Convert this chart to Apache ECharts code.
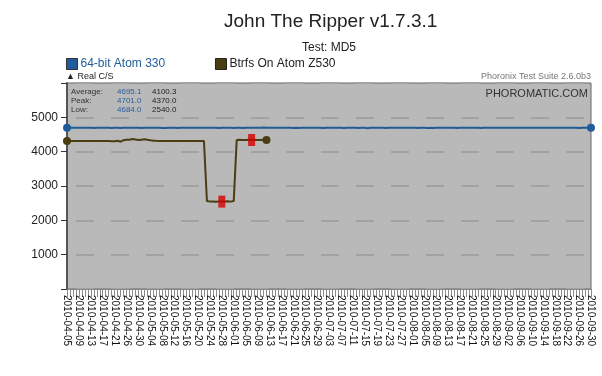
<!DOCTYPE html>
<html>
<head>
<meta charset="utf-8">
<script src="https://cdn.jsdelivr.net/npm/echarts@6/dist/echarts.min.js"></script>
<style>
  html, body { margin: 0; padding: 0; background: #fff; }
  #chart { width: 602px; height: 376px; }
</style>
</head>
<body>
<div id="chart"></div>
<script>
// test dates: one per day, two days have no run
var startDate = "2010-04-05";
var endDate = "2010-09-30";
var skipDays = ["2010-04-24", "2010-07-30"];

var seriesNames = ["64-bit Atom 330", "Btrfs On Atom Z530"];
var seriesColors = ["#1f5c99", "#4a3d14"];

// 64-bit Atom 330, every test date
var atomValues = [
  4697, 4698, 4697, 4697, 4698, 4697, 4697, 4698, 4697, 4688,
  4697, 4697, 4698, 4697, 4697, 4689, 4697, 4697, 4687, 4697,
  4698, 4697, 4697, 4698, 4697, 4688, 4697, 4697, 4698, 4697,
  4697, 4698, 4689, 4687, 4697, 4697, 4698, 4688, 4697, 4697,
  4698, 4697, 4697, 4699, 4697, 4697, 4698, 4697, 4697, 4698,
  4697, 4688, 4697, 4697, 4698, 4697, 4687, 4697, 4697, 4689,
  4697, 4698, 4697, 4697, 4698, 4697, 4701, 4697, 4698, 4697,
  4697, 4698, 4697, 4697, 4698, 4697, 4688, 4697, 4686, 4697,
  4698, 4697, 4697, 4698, 4697, 4697, 4688, 4697, 4698, 4697,
  4697, 4698, 4697, 4687, 4697, 4697, 4698, 4697, 4689, 4697,
  4697, 4684, 4697, 4698, 4697, 4697, 4698, 4688, 4697, 4697,
  4698, 4697, 4697, 4698, 4697, 4697, 4698, 4697, 4687, 4697,
  4697, 4689, 4697, 4688, 4698, 4697, 4697, 4698, 4697, 4697,
  4698, 4687, 4697, 4697, 4698, 4697, 4697, 4698, 4697, 4688,
  4697, 4698, 4697, 4697, 4698, 4697, 4697, 4698, 4697, 4697,
  4698, 4697, 4697, 4698, 4697, 4697, 4698, 4697, 4697, 4698,
  4697, 4697, 4698, 4697, 4697, 4698, 4697, 4697, 4698, 4697,
  4697, 4698, 4688, 4697, 4697, 4698, 4697
];

// Btrfs On Atom Z530, runs stop mid June
var btrfsValues = [
  4310, 4312, 4310, 4311, 4310, 4312, 4310, 4311, 4310, 4312,
  4310, 4311, 4312, 4310, 4311, 4300, 4305, 4320, 4290, 4335,
  4350, 4345, 4370, 4355, 4340, 4350, 4360, 4345, 4330, 4320,
  4315, 4312, 4310, 4311, 4312, 4310, 4311, 4312, 4310, 4311,
  4312, 4310, 4311, 4312, 4310, 4311, 4310,
  2560, 2545, 2550, 2540, 2548, 2545, 2550, 2555, 2545, 2560,
  4340, 4345, 4340, 4342, 4345, 4340, 4345, 4342, 4340, 4345, 4340
];

// red regression markers on the Btrfs line: [index of date, value]
var regressionPoints = [[52, 2545], [62, 4340]];

var yTicks = [1000, 2000, 3000, 4000, 5000];

var statLabels = ["Average:", "Peak:", "Low:"];
var atomStats = ["4695.1", "4701.0", "4684.0"];
var btrfsStats = ["4100.3", "4370.0", "2540.0"];

var categories = [];
var d = new Date(startDate + "T00:00:00Z");
var last = new Date(endDate + "T00:00:00Z");
while (d <= last) {
  var s = d.toISOString().slice(0, 10);
  if (skipDays.indexOf(s) < 0) categories.push(s);
  d.setUTCDate(d.getUTCDate() + 1);
}

var chart = echarts.init(document.getElementById("chart"));
var font = "Liberation Sans, Arial, sans-serif";

function endSymbols(len) {
  return function (val, params) {
    return (params.dataIndex === 0 || params.dataIndex === len - 1) ? 8 : 0;
  };
}

var statTexts = [];
statLabels.forEach(function (lab, i) {
  var y = 88 + i * 9;
  statTexts.push({ type: "text", left: 71, top: y, style: { text: lab, fill: "#333", font: "8px " + font } });
  statTexts.push({ type: "text", left: 117, top: y, style: { text: atomStats[i], fill: "#2a5f9e", font: "8px " + font } });
  statTexts.push({ type: "text", left: 152, top: y, style: { text: btrfsStats[i], fill: "#222", font: "8px " + font } });
});

var option = {
  animation: false,
  backgroundColor: "#ffffff",
  textStyle: { fontFamily: font },
  title: [
    { text: "John The Ripper v1.7.3.1", left: 224, top: 12, padding: 0,
      textStyle: { fontSize: 19, fontWeight: "normal", color: "#222", fontFamily: font } },
    { text: "Test: MD5", left: 302, top: 42, padding: 0,
      textStyle: { fontSize: 12, fontWeight: "normal", color: "#222", fontFamily: font } }
  ],
  legend: [
    { left: 66, top: 58, padding: 0, icon: "rect", itemWidth: 11, itemHeight: 11, itemGap: 4,
      data: [{ name: seriesNames[0], textStyle: { color: "#1f5c99" } }],
      textStyle: { fontSize: 12, fontFamily: font, padding: [0, 0, 0, -2] },
      itemStyle: { borderColor: "#333", borderWidth: 1 } },
    { left: 215, top: 58, padding: 0, icon: "rect", itemWidth: 11, itemHeight: 11, itemGap: 4,
      data: [{ name: seriesNames[1], textStyle: { color: "#222" } }],
      textStyle: { fontSize: 12, fontFamily: font, padding: [0, 0, 0, -2] },
      itemStyle: { borderColor: "#222", borderWidth: 1 } }
  ],
  graphic: [
    { type: "text", left: 66, top: 72, style: { text: "\u25B2 Real C/S", fill: "#222", font: "9px " + font } },
    { type: "text", right: 11, top: 72, style: { text: "Phoronix Test Suite 2.6.0b3", fill: "#777", font: "9px " + font } },
    { type: "text", right: 14, top: 88, z: 10, style: { text: "PHOROMATIC.COM", fill: "#333", font: "11px " + font } }
  ].concat(statTexts),
  grid: {
    left: 67, right: 11, top: 83, bottom: 87,
    show: true, backgroundColor: "#b9b9b9", borderColor: "#666", borderWidth: 1
  },
  xAxis: {
    type: "category",
    data: categories,
    boundaryGap: false,
    axisLine: { lineStyle: { color: "#888", width: 1 } },
    axisTick: { interval: 0, length: 8, lineStyle: { color: "#8a8a8a" } },
    axisLabel: { interval: 3, rotate: -90, fontSize: 10, color: "#111", margin: 6, fontFamily: font },
    splitLine: { show: false }
  },
  yAxis: {
    type: "value",
    min: 0, max: 6000, interval: 1000,
    axisLine: { show: true, lineStyle: { color: "#555", width: 2 } },
    axisTick: { show: true, length: 6, lineStyle: { color: "#333" } },
    axisLabel: {
      fontSize: 12, color: "#222", margin: 9, fontFamily: font,
      formatter: function (v) { return yTicks.indexOf(v) >= 0 ? String(v) : ""; }
    },
    splitLine: { lineStyle: { color: "#a2a2a2", width: 2, type: [18, 17], dashOffset: -9 } }
  },
  series: [
    {
      name: seriesNames[0], type: "line", data: atomValues,
      color: seriesColors[0],
      lineStyle: { width: 2, color: seriesColors[0] },
      symbol: "circle", showSymbol: true, showAllSymbol: true,
      symbolSize: endSymbols(atomValues.length),
      itemStyle: { color: seriesColors[0] }
    },
    {
      name: seriesNames[1], type: "line", data: btrfsValues,
      color: seriesColors[1],
      lineStyle: { width: 2, color: seriesColors[1] },
      symbol: "circle", showSymbol: true, showAllSymbol: true,
      symbolSize: endSymbols(btrfsValues.length),
      itemStyle: { color: seriesColors[1] }
    },
    {
      name: "regression", type: "scatter",
      data: regressionPoints.map(function (p) { return [categories[p[0]], p[1]]; }),
      symbol: "rect", symbolSize: [7, 12],
      itemStyle: { color: "#d40000" }, z: 5
    }
  ]
};

chart.setOption(option);
</script>
</body>
</html>
